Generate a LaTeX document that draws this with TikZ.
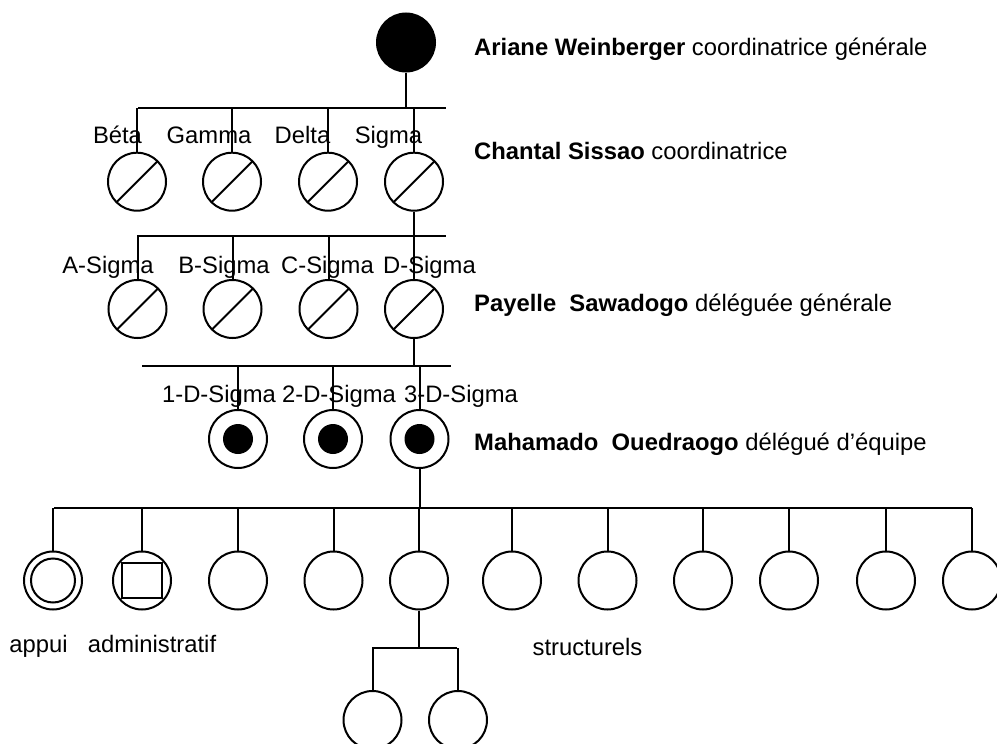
\documentclass[tikz,border=0pt]{standalone}
\usepackage{fontspec}
\setmainfont{Liberation Sans}
\begin{document}
\begin{tikzpicture}[x=1pt,y=-1pt,
  every node/.style={font=\fontsize{23.8}{28}\selectfont, inner sep=0pt},
  ln/.style={line width=2pt},
  pers/.style={circle, draw, line width=2pt, minimum size=58pt, inner sep=0pt},
  chief/.style={pers, fill=black},
  slashed/.style={pers, path picture={\draw[line width=2pt] (path picture bounding box.south west) -- (path picture bounding box.north east);}},
  dotted/.style={pers, path picture={\fill (path picture bounding box.center) circle (15pt);}},
  ringed/.style={pers, path picture={\draw[line width=2pt] (path picture bounding box.center) circle (22pt);}},
  boxed/.style={pers, path picture={\draw[line width=2pt] ([xshift=-20pt,yshift=-17.5pt]path picture bounding box.center) rectangle ([xshift=20pt,yshift=17.5pt]path picture bounding box.center);}},
  lbl/.style={anchor=base},
  side/.style={anchor=base west}
]
\useasboundingbox (0,0) rectangle (997,744);

% level 0
\node[chief] (root) at (406,42.5) {};
\node[side] (t0) at (474,56) {\textbf{Ariane Weinberger} coordinatrice générale};

% level 1
\coordinate (b1l) at (138,108);
\coordinate (b1r) at (446,108);
\node[slashed] (beta)  at (137,181.7) {};
\node[slashed] (gamma) at (232,181.7) {};
\node[slashed] (delta) at (328,181.7) {};
\node[slashed] (sigma) at (414,181.7) {};
\node[lbl] (lbeta)  at (117.5,143) {Béta};
\node[lbl] (lgamma) at (209,143) {Gamma};
\node[lbl] (ldelta) at (302.5,143) {Delta};
\node[lbl] (lsigma) at (388.5,143) {Sigma};
\node[side] (t1) at (474,159) {\textbf{Chantal Sissao} coordinatrice};
\draw[ln] (b1l) -- (b1r);
\draw[ln] (root.south) -- (root.south |- b1l);
\foreach \n in {beta,gamma,delta,sigma} \draw[ln] (\n.north) -- (\n.north |- b1l);

% level 2
\coordinate (b2l) at (137,235.7);
\coordinate (b2r) at (446,235.7);
\node[slashed] (asig) at (137.5,309) {};
\node[slashed] (bsig) at (232.5,309) {};
\node[slashed] (csig) at (328.5,309) {};
\node[slashed] (dsig) at (414,309) {};
\node[lbl] (lasig) at (108,273) {A-Sigma};
\node[lbl] (lbsig) at (224,273) {B-Sigma};
\node[lbl] (lcsig) at (327.5,273) {C-Sigma};
\node[lbl] (ldsig) at (429.5,273) {D-Sigma};
\node[side] (t2) at (474,311) {\textbf{Payelle\ \ Sawadogo} déléguée générale};
\draw[ln] (b2l) -- (b2r);
\draw[ln] (sigma.south) -- (sigma.south |- b2l);
\foreach \n in {asig,bsig,csig,dsig} \draw[ln] (\n.north) -- (\n.north |- b2l);

% level 3
\coordinate (b3l) at (142,366);
\coordinate (b3r) at (451,366);
\node[dotted] (d1) at (238,439) {};
\node[dotted] (d2) at (333,439) {};
\node[dotted] (d3) at (419.5,439) {};
\node[lbl] (ld1) at (219,402) {1-D-Sigma};
\node[lbl] (ld2) at (339,402) {2-D-Sigma};
\node[lbl] (ld3) at (461,402) {3-D-Sigma};
\node[side] (t3) at (474,450) {\textbf{Mahamado\ \ Ouedraogo} délégué d’équipe};
\draw[ln] (b3l) -- (b3r);
\draw[ln] (dsig.south) -- (dsig.south |- b3l);
\foreach \n in {d1,d2,d3} \draw[ln] (\n.north) -- (\n.north |- b3l);

% level 4
\coordinate (b4l) at (54,507.7);
\coordinate (b4r) at (972,507.7);
\node[ringed] (m1) at (53,580.5) {};
\node[boxed] (m2) at (142,580.5) {};
\node[pers] (m3) at (238,580.5) {};
\node[pers] (m4) at (333.5,580.5) {};
\node[pers] (m5) at (419,580.5) {};
\node[pers] (m6) at (512,580.5) {};
\node[pers] (m7) at (607.5,580.5) {};
\node[pers] (m8) at (703,580.5) {};
\node[pers] (m9) at (789,580.5) {};
\node[pers] (m10) at (886,580.5) {};
\node[pers] (m11) at (972,580.5) {};
\node[lbl] (lapp) at (38.5,652) {appui};
\node[lbl] (ladm) at (152,652) {administratif};
\node[lbl] (lstr) at (587.5,655) {structurels};
\draw[ln] (b4l) -- (b4r);
\draw[ln] (d3.south) -- (d3.south |- b4l);
\foreach \n in {m1,m2,m3,m4,m5,m6,m7,m8,m9,m10,m11} \draw[ln] (\n.north) -- (\n.north |- b4l);

% level 5
\coordinate (b5l) at (372,647.7);
\coordinate (b5r) at (457,647.7);
\node[pers] (s1) at (372.5,720) {};
\node[pers] (s2) at (458,720) {};
\draw[ln] (b5l) -- (b5r);
\draw[ln] (m5.south) -- (m5.south |- b5l);
\foreach \n in {s1,s2} \draw[ln] (\n.north) -- (\n.north |- b5l);
\end{tikzpicture}
\end{document}
